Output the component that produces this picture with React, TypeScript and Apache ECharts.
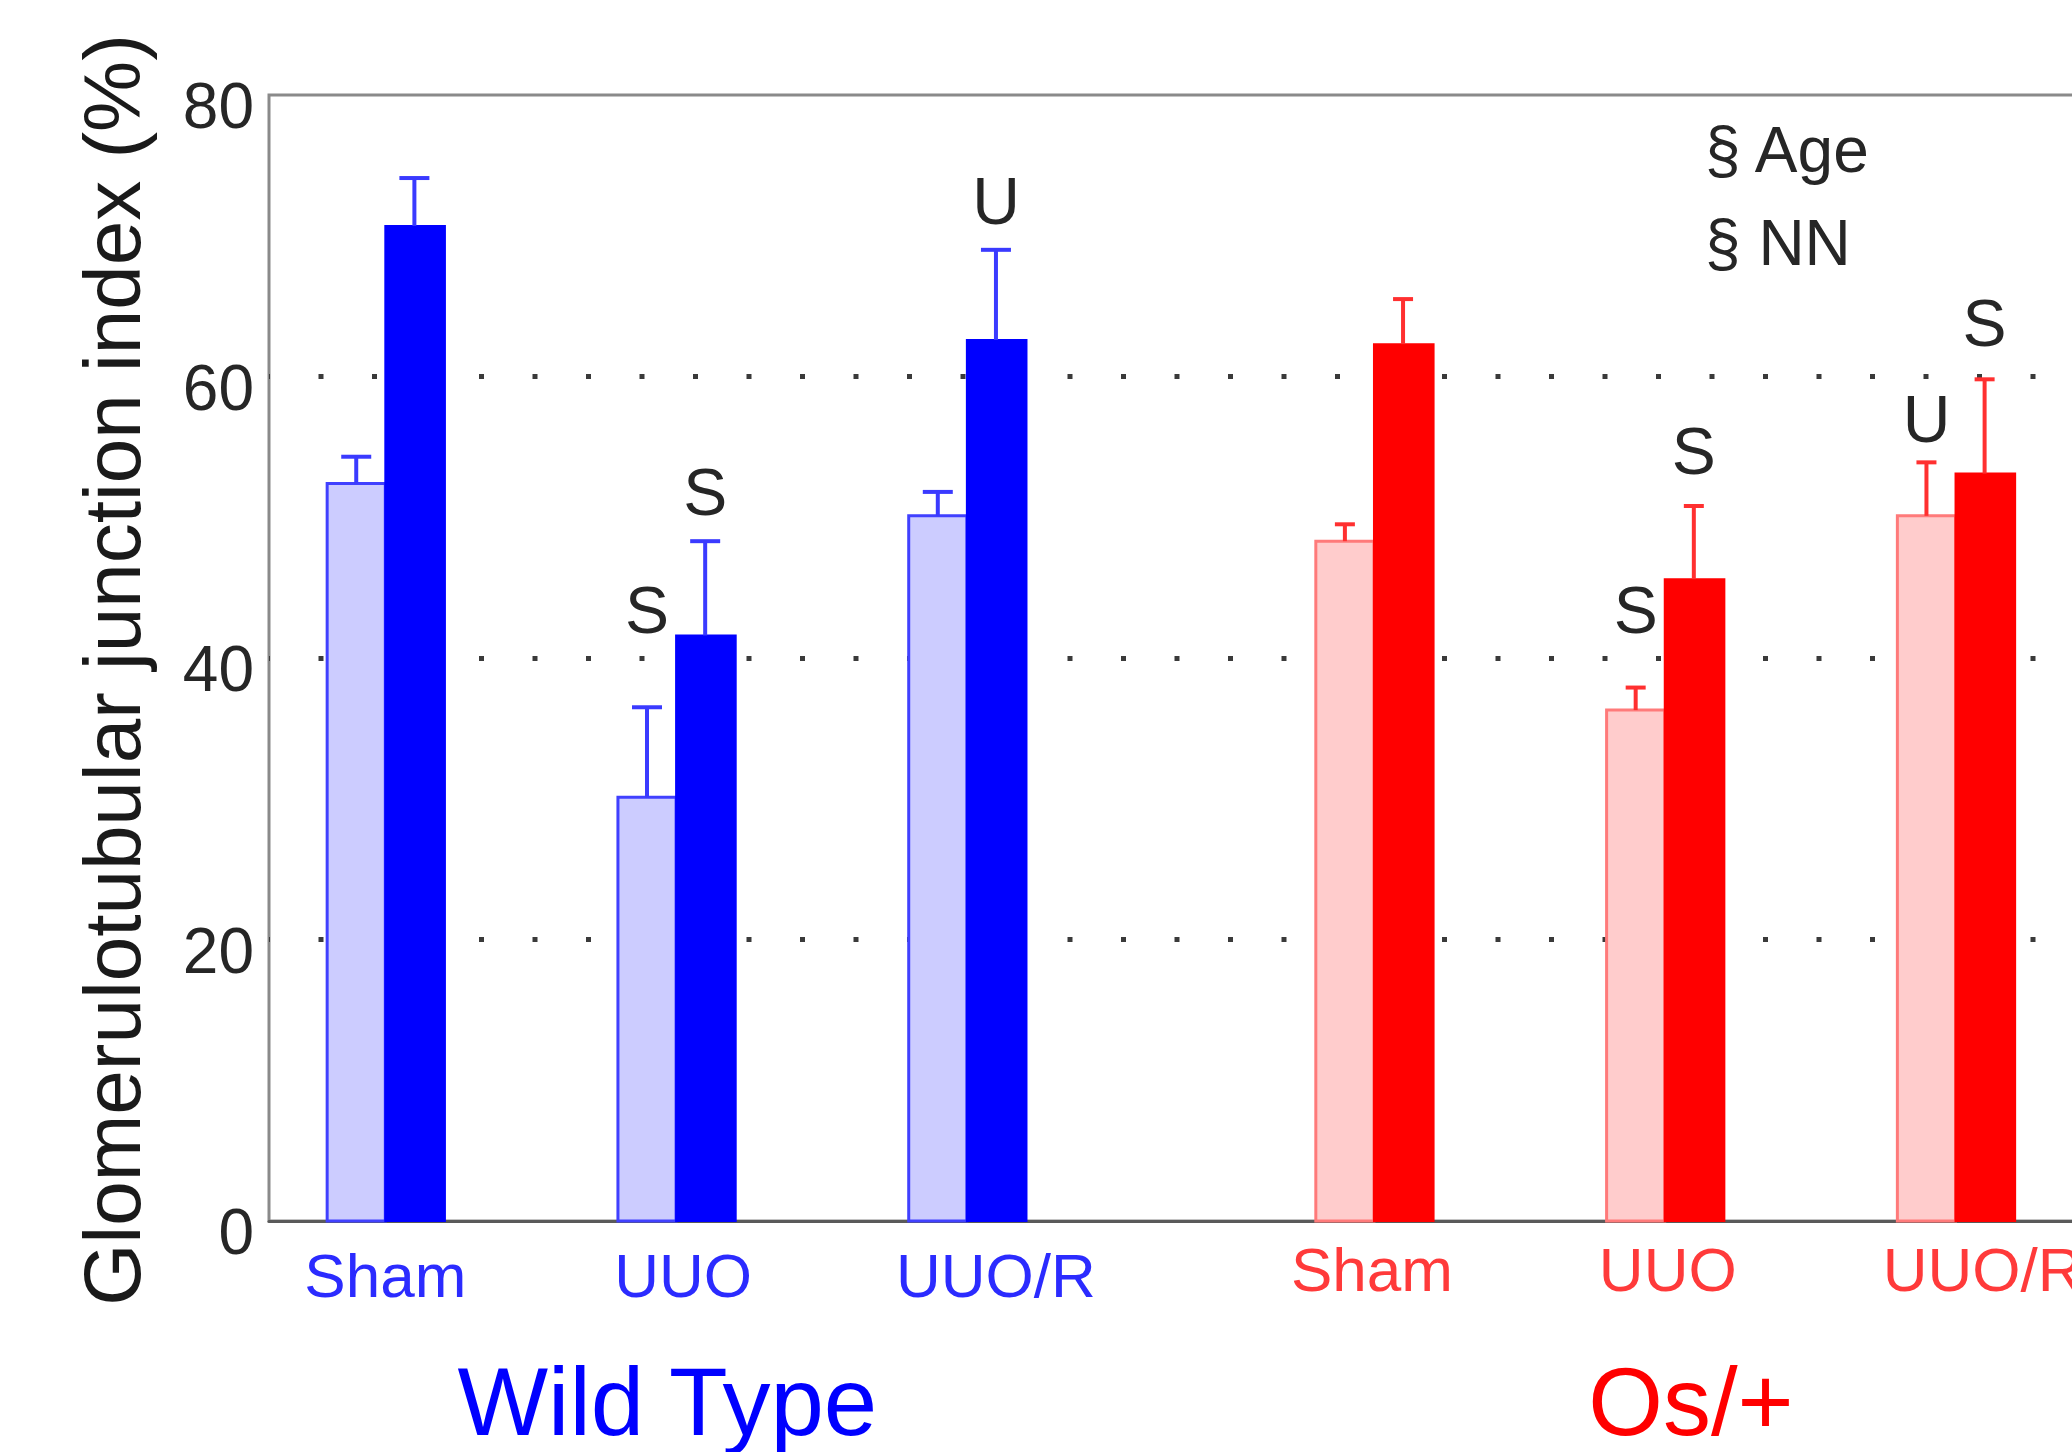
import React, { useEffect, useRef } from "react";
import * as echarts from "echarts";

// ---- data ----
const categories = ["Sham", "UUO", "UUO/R", "Sham", "UUO", "UUO/R"];
const catX = [1, 2, 3, 4.4, 5.4, 6.4];
const genotypeIdx = [0, 0, 0, 1, 1, 1];
const genotypes = ["Wild Type", "Os/+"];
const genotypeX = [1.97, 5.49];
const lightMean = [52.4, 30.1, 50.1, 48.3, 36.3, 50.1];
const lightErr = [1.9, 6.4, 1.7, 1.2, 1.6, 3.8];
const darkMean = [70.7, 41.6, 62.6, 62.3, 45.6, 53.1];
const darkErr = [3.4, 6.7, 6.4, 3.2, 5.2, 6.7];
const sigText = ["S", "S", "U", "S", "S", "U", "S"];
const sigX = [1.9, 2.1, 3.1, 5.3, 5.5, 6.3, 6.5];
const sigY = [43.4, 51.8, 72.5, 43.4, 54.7, 57.0, 63.8];
const legendLines = ["§ Age", "§ NN"];
const yTicks = [0, 20, 40, 60, 80];

const FONT = "'Liberation Sans', Arial, sans-serif";
const labelNudge = [0, 7, 29, -2, 3, 27];
const palette = [
  { light: "#ccccff", lightEdge: "#4040ff", dark: "#0000ff", err: "#3a3aff", label: "#2b2bff", group: "#0000ff", cap: 15 },
  { light: "#ffcccc", lightEdge: "#ff7a7a", dark: "#ff0000", err: "#ff3030", label: "#ff3a3a", group: "#ff0000", cap: 10 },
];

export default function App() {
  const ref = useRef<HTMLDivElement>(null);
  useEffect(() => {
    if (!ref.current) return;
    const chart = echarts.init(ref.current, undefined, { renderer: "svg" });
    const barData = catX.map((x, i) => [x, lightMean[i], darkMean[i], lightErr[i], darkErr[i], genotypeIdx[i]]);
    const option: any = {
      animation: false,
      backgroundColor: "#ffffff",
      grid: {
        left: 269,
        right: 0,
        top: 95,
        bottom: 231,
        show: true,
        borderColor: "#8a8a8a",
        borderWidth: 3,
        backgroundColor: "transparent",
      },
      xAxis: {
        type: "value",
        min: 0.6,
        max: 7.0,
        axisLine: { show: true, lineStyle: { color: "#5a5a5a", width: 3 } },
        axisTick: { show: false },
        axisLabel: { show: false },
        splitLine: { show: false },
      },
      yAxis: {
        type: "value",
        min: yTicks[0],
        max: yTicks[yTicks.length - 1],
        interval: 20,
        axisLine: { show: false },
        axisTick: { show: false },
        axisLabel: {
          fontSize: 64,
          fontFamily: FONT,
          color: "#262626",
          margin: 15,
          verticalAlign: "top",
          lineHeight: 22,
        },
        splitLine: {
          show: true,
          showMinLine: false,
          showMaxLine: false,
          lineStyle: { color: "#3a3a3a", width: 5, type: [5, 48.5], dashOffset: 4 },
        },
      },
      series: [
        {
          type: "custom",
          data: barData,
          clip: false,
          renderItem: (params: any, api: any) => {
            const x = api.value(0);
            const lm = api.value(1);
            const dm = api.value(2);
            const le = api.value(3);
            const de = api.value(4);
            const p = palette[api.value(5)];
            const children: any[] = [];
            const l0 = api.coord([x - 0.2, lm]);
            const l1 = api.coord([x, 0]);
            const d0 = api.coord([x, dm]);
            const d1 = api.coord([x + 0.205, 0]);
            children.push({
              type: "rect",
              shape: { x: l0[0], y: l0[1], width: l1[0] - l0[0], height: l1[1] - l0[1] },
              style: { fill: p.light, stroke: p.lightEdge, lineWidth: 3 },
            });
            children.push({
              type: "rect",
              shape: { x: d0[0], y: d0[1], width: d1[0] - d0[0], height: d1[1] - d0[1] },
              style: { fill: p.dark, stroke: p.dark, lineWidth: 2 },
            });
            const errs = [
              [x - 0.1, lm, le],
              [x + 0.1, dm, de],
            ];
            errs.forEach(([cx, m, e]) => {
              const b = api.coord([cx, m]);
              const t = api.coord([cx, m + e]);
              children.push({
                type: "line",
                shape: { x1: b[0], y1: b[1], x2: t[0], y2: t[1] },
                style: { stroke: p.err, lineWidth: 4 },
              });
              children.push({
                type: "line",
                shape: { x1: t[0] - p.cap, y1: t[1], x2: t[0] + p.cap, y2: t[1] },
                style: { stroke: p.err, lineWidth: 4 },
              });
            });
            return { type: "group", children };
          },
          z: 3,
        },
        {
          type: "custom",
          data: sigX.map((x, i) => [x, sigY[i]]),
          clip: false,
          renderItem: (params: any, api: any) => {
            const c = api.coord([api.value(0), api.value(1)]);
            return {
              type: "text",
              x: c[0],
              y: c[1],
              style: {
                text: sigText[params.dataIndex],
                fill: "#262626",
                fontSize: 66,
                fontFamily: FONT,
                align: "center",
                verticalAlign: "middle",
              },
            };
          },
          z: 4,
        },
        {
          type: "custom",
          data: catX.map((x, i) => [x, 0, genotypeIdx[i]]),
          clip: false,
          renderItem: (params: any, api: any) => {
            const g = api.value(2);
            const c = api.coord([api.value(0), 0]);
            return {
              type: "text",
              x: c[0] + labelNudge[params.dataIndex],
              y: c[1] + (g === 0 ? 54 : 48),
              style: {
                text: categories[params.dataIndex],
                fill: palette[g].label,
                fontSize: 62,
                fontFamily: FONT,
                align: "center",
                verticalAlign: "middle",
              },
            };
          },
          z: 4,
        },
        {
          type: "custom",
          data: genotypeX.map((x, i) => [x, 0, i]),
          clip: false,
          renderItem: (params: any, api: any) => {
            const g = api.value(2);
            const c = api.coord([api.value(0), 0]);
            return {
              type: "text",
              x: c[0],
              y: c[1] + 180,
              style: {
                text: genotypes[params.dataIndex],
                fill: palette[g].group,
                fontSize: 96,
                lineHeight: 90,
                fontFamily: FONT,
                align: "center",
                verticalAlign: "middle",
              },
            };
          },
          z: 4,
        },
      ],
      graphic: [
        {
          type: "text",
          x: 112,
          y: 670,
          rotation: Math.PI / 2,
          style: {
            text: "Glomerulotubular junction index (%)",
            fill: "#1a1a1a",
            fontSize: 80,
            fontFamily: FONT,
            align: "center",
            verticalAlign: "middle",
          },
        },
        ...legendLines.map((t, i) => ({
          type: "text",
          x: 1705,
          y: 150 + i * 93,
          style: {
            text: t,
            fill: "#262626",
            fontSize: 64,
            fontFamily: FONT,
            align: "left",
            verticalAlign: "middle",
          },
        })),
      ],
    };
    chart.setOption(option);
    return () => chart.dispose();
  }, []);
  return (
    <div
      style={{ position: "fixed", left: 0, top: 0, width: 2072, height: 1452, overflow: "hidden", background: "#fff" }}
    >
      <div ref={ref} style={{ width: 2130, height: 1452 }} />
    </div>
  );
}
